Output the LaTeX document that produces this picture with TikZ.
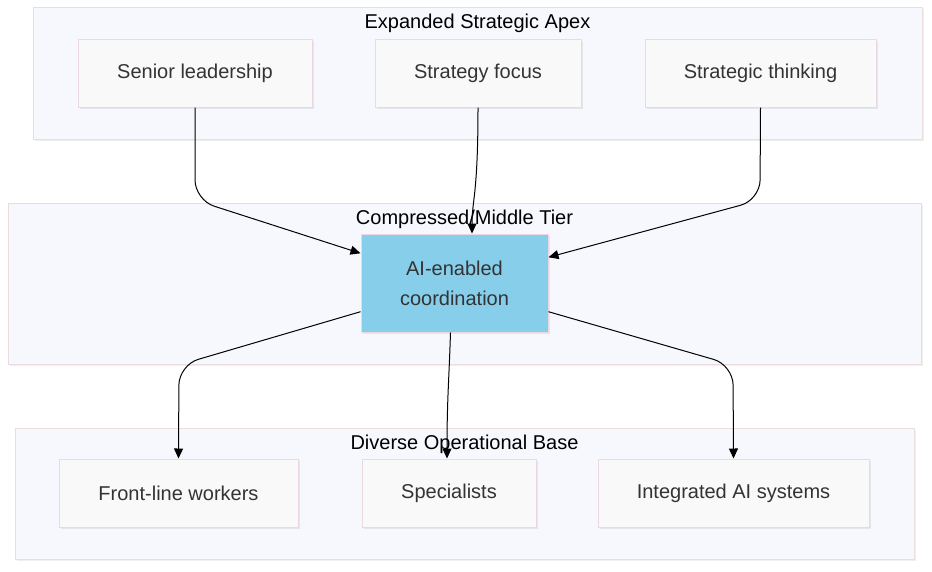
\documentclass[tikz,border=0pt]{standalone}
\usepackage{fontspec}
\setmainfont{Liberation Sans}
\definecolor{clusterfill}{RGB}{247,248,254}
\definecolor{clusterline}{RGB}{236,220,222}
\definecolor{boxfill}{RGB}{249,249,249}
\definecolor{boxline}{RGB}{234,216,226}
\definecolor{aiblue}{RGB}{135,206,235}
\definecolor{labelgray}{RGB}{51,51,51}
\usetikzlibrary{positioning, shadows, arrows.meta, calc}

\begin{document}
\begin{tikzpicture}[x=1pt, y=-1pt,
    tier/.style={rectangle, draw=clusterline, fill=clusterfill, line width=1pt, drop shadow={opacity=0.12, shadow xshift=1.5pt, shadow yshift=-2pt}},
    tiertitle/.style={font=\fontsize{20}{24}\selectfont, text=black},
    unit/.style={rectangle, draw=boxline, fill=boxfill, line width=1pt, minimum height=68pt, text=labelgray, align=center, font=\fontsize{20}{30}\selectfont, drop shadow={opacity=0.15, shadow xshift=2pt, shadow yshift=-2pt}},
    flow/.style={-{Triangle[length=10pt, width=9pt]}, line width=1pt, rounded corners=20pt}
]
    \useasboundingbox (0,0) rectangle (932,571);
    \fill[white] (0,0) rectangle (932,571);

    % Expanded Strategic Apex (top)
    \node[tier, minimum width=889pt, minimum height=132pt] (apex) at (477.5, 73) {};
    \node[tiertitle, yshift=-17pt] (apextitle) at (apex.north) {Expanded Strategic Apex};
    \node[unit, minimum width=234pt] (senior) at (195, 73) {Senior leadership};
    \node[unit, minimum width=206pt] (strategy) at (478, 73) {Strategy focus};
    \node[unit, minimum width=231pt] (thinking) at (760.5, 73) {Strategic thinking};

    % Compressed/Middle Tier
    \node[tier, minimum width=913pt, minimum height=161pt] (middle) at (464.5, 283.5) {};
    \node[tiertitle, yshift=-17pt] (middletitle) at (middle.north) {Compressed/Middle Tier};
    \node[unit, fill=aiblue, minimum width=187pt, minimum height=98pt] (ai) at (454.5, 283) {AI-enabled\\coordination};

    % Diverse Operational Base (bottom)
    \node[tier, minimum width=899pt, minimum height=131pt] (base) at (464.5, 493.5) {};
    \node[tiertitle, yshift=-17pt] (basetitle) at (base.north) {Diverse Operational Base};
    \node[unit, minimum width=239pt] (front) at (178.5, 493) {Front-line workers};
    \node[unit, minimum width=174pt] (special) at (449, 493) {Specialists};
    \node[unit, minimum width=271pt] (integrated) at (733.5, 493) {Integrated AI systems};

    % Bends
    \coordinate (seniorbend) at (195, 200);
    \coordinate (thinkingbend) at (760, 200);
    \coordinate (frontbend) at (179, 365);
    \coordinate (integratedbend) at (733, 365);

    % Arrows into the middle tier
    \draw[flow] (senior.south) -- (seniorbend) -- ($(ai.north west)!0.2!(ai.south west)$);
    \draw[flow] (strategy.south) .. controls (478, 195) and (472, 200) .. ($(ai.north)+(17.5,0)$);
    \draw[flow] (thinking.south) -- (thinkingbend) -- ($(ai.north east)!0.24!(ai.south east)$);

    % Arrows into the base
    \draw[flow] ($(ai.north west)!0.79!(ai.south west)$) -- (frontbend) -- (front.north);
    \draw[flow] ($(ai.south)+(-4,0)$) .. controls (449, 380) and (447, 400) .. ($(special.north)+(-2,0)$);
    \draw[flow] ($(ai.north east)!0.79!(ai.south east)$) -- (integratedbend) -- (integrated.north);
\end{tikzpicture}
\end{document}
